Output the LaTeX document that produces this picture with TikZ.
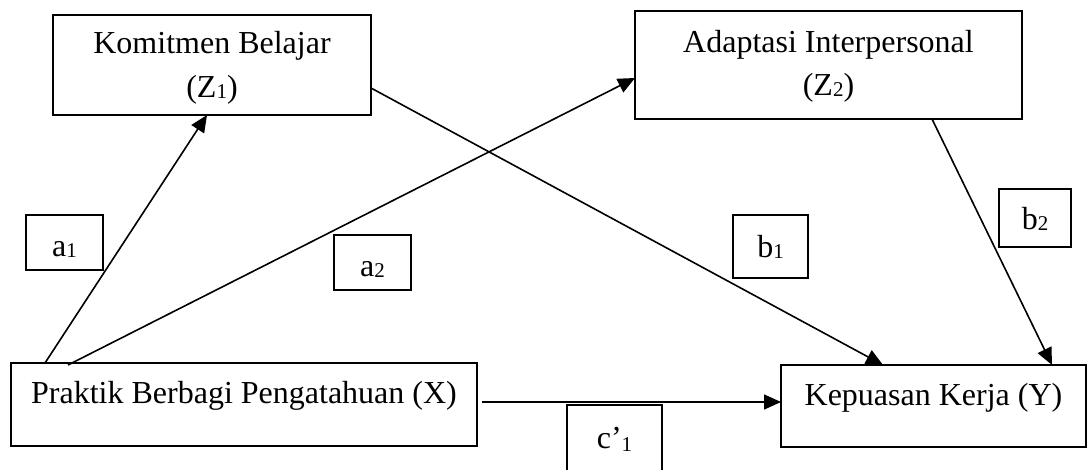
\documentclass[tikz,border=0pt]{standalone}
\usepackage{fontspec}
\setmainfont{Liberation Serif}
\usetikzlibrary{arrows.meta}
\newcommand{\dsub}[2][1pt]{\raisebox{-#1}{\fontsize{21}{21}\selectfont #2}}
\begin{document}
\begin{tikzpicture}[x=1pt,y=1pt,
  varbox/.style={draw, line width=2.2pt, inner sep=0pt, outer sep=0pt},
  txt/.style={inner sep=0pt, anchor=base, font=\fontsize{32}{43}\selectfont},
  conn/.style={line width=1.6pt, -{Triangle[length=17pt,width=15pt]}}]
\useasboundingbox (0,0) rectangle (1087,469);
% main boxes
\node[varbox, minimum width=318pt, minimum height=100pt] (z1) at (212,404) {};
\node[txt] (z1a) at (212,415) {Komitmen Belajar};
\node[txt] (z1b) at (212,371) {(Z\dsub{1})};
\node[varbox, minimum width=387pt, minimum height=108pt] (z2) at (828.5,404) {};
\node[txt] (z2a) at (828.5,416) {Adaptasi Interpersonal};
\node[txt] (z2b) at (828.5,373) {(Z\dsub{2})};
\node[varbox, minimum width=466pt, minimum height=83pt] (x) at (244,64.5) {};
\node[txt] (xt) at (244,66) {Praktik Berbagi Pengatahuan (X)};
\node[varbox, minimum width=305pt, minimum height=82pt] (y) at (933.5,63) {};
\node[txt] (yt) at (933.5,64) {Kepuasan Kerja (Y)};
% label boxes
\node[varbox, minimum width=77pt, minimum height=55pt] (la1) at (64.5,226.5) {};
\node[txt] (ta1) at (64.5,212) {a\dsub{1}};
\node[varbox, minimum width=77pt, minimum height=55pt] (la2) at (372.5,206.5) {};
\node[txt] (ta2) at (372.5,192) {a\dsub{2}};
\node[varbox, minimum width=75pt, minimum height=63pt] (lb1) at (770.5,222.5) {};
\node[txt] (tb1) at (770.5,211) {b\dsub{1}};
\node[varbox, minimum width=72pt, minimum height=58pt] (lb2) at (1035,251) {};
\node[txt] (tb2) at (1035,239) {b\dsub{2}};
\node[varbox, minimum width=95pt, minimum height=70pt] (lc1) at (614.5,29) {};
\node[txt] (tc1) at (614.5,21) {c’\dsub[3pt]{1}};
% connectors
\draw[conn] ([xshift=34pt]x.north west) -- ([xshift=154pt]z1.south west);
\draw[conn] ([xshift=57pt,yshift=-2pt]x.north west) -- ([yshift=-13pt]z2.west);
\draw[conn] ([yshift=-23pt]z1.east) -- ([xshift=102pt]y.north west);
\draw[conn] ([xshift=297pt]z2.south west) -- ([xshift=271pt]y.north west);
\draw[conn] ([xshift=5pt,yshift=2.5pt]x.east) -- ([yshift=4pt]y.west);
\end{tikzpicture}
\end{document}
